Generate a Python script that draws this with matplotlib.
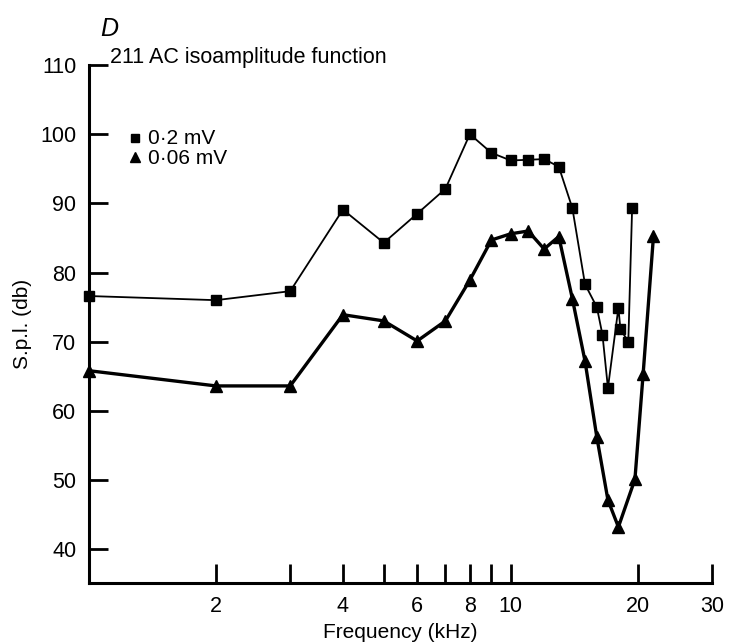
import matplotlib
matplotlib.use("Agg")
import matplotlib.pyplot as plt
from matplotlib.ticker import FixedLocator, FixedFormatter, NullLocator

plt.rcParams['font.family'] = ['Liberation Sans', 'DejaVu Sans']

# 0.2 mV series (squares)
freq_02 = [1.0, 2.0, 3.0, 4.0, 5.0, 6.0, 7.0, 8.0, 9.0, 10.0, 11.0, 12.0, 13.0,
           14.0, 15.0, 16.0, 16.5, 17.0, 18.0, 18.2, 19.0, 19.4]
spl_02 = [76.6, 76.0, 77.3, 89.1, 84.3, 88.5, 92.1, 100.0, 97.3, 96.2, 96.3, 96.4, 95.3,
          89.3, 78.3, 75.0, 71.0, 63.3, 74.9, 71.8, 70.0, 89.3]

# 0.06 mV series (triangles)
freq_006 = [1.0, 2.0, 3.0, 4.0, 5.0, 6.0, 7.0, 8.0, 9.0, 10.0, 11.0, 12.0, 13.0,
            14.0, 15.0, 16.0, 17.0, 18.0, 19.7, 20.6, 21.8]
spl_006 = [65.8, 63.6, 63.6, 73.9, 73.0, 70.1, 73.0, 78.9, 84.7, 85.6, 86.0, 83.4, 85.2,
           76.2, 67.2, 56.2, 47.1, 43.2, 50.1, 65.3, 85.3]

x_ticks = [2, 3, 4, 5, 6, 7, 8, 9, 10, 20, 30]
x_labels = ['2', '', '4', '', '6', '', '8', '', '10', '20', '30']
y_ticks = [40, 50, 60, 70, 80, 90, 100, 110]

fig = plt.figure(figsize=(7.30, 6.44), dpi=100)
ax = fig.add_axes([0.1219, 0.0947, 0.8534, 0.8043])

ax.plot(freq_02, spl_02, color='black', lw=1.3, marker='s', ms=6.8,
        clip_on=False, zorder=3)
ax.plot(freq_006, spl_006, color='black', lw=2.4, marker='^', ms=8.5,
        clip_on=False, zorder=3)

ax.set_xscale('log')
ax.set_xlim(1, 30)
ax.set_ylim(35.1, 110)

ax.xaxis.set_major_locator(FixedLocator(x_ticks))
ax.xaxis.set_major_formatter(FixedFormatter(x_labels))
ax.xaxis.set_minor_locator(NullLocator())
ax.yaxis.set_major_locator(FixedLocator(y_ticks))

ax.tick_params(axis='both', direction='in', length=14, width=2, labelsize=15.5,
               color='black')
ax.tick_params(axis='x', pad=9)
ax.tick_params(axis='y', pad=9)

for s in ['top', 'right']:
    ax.spines[s].set_visible(False)
for s in ['left', 'bottom']:
    ax.spines[s].set_linewidth(2.2)

ax.set_xlabel('Frequency (kHz)', fontsize=15, labelpad=5)
ax.set_ylabel('S.p.l. (db)', fontsize=15, labelpad=6)

fig.text(0.137, 0.955, 'D', fontsize=18, style='italic', ha='left', va='center')
fig.text(0.150, 0.910, '211 AC isoamplitude function', fontsize=15.5,
         ha='left', va='center')

# legend
ax.plot([0.074], [0.859], transform=ax.transAxes, marker='s', ms=6.0, color='black',
        clip_on=False)
ax.plot([0.074], [0.822], transform=ax.transAxes, marker='^', ms=7.5, color='black',
        clip_on=False)
ax.text(0.095, 0.859, '0·2 mV', transform=ax.transAxes, fontsize=15, va='center')
ax.text(0.095, 0.820, '0·06 mV', transform=ax.transAxes, fontsize=15, va='center')

fig.savefig('out.png', dpi=100)
